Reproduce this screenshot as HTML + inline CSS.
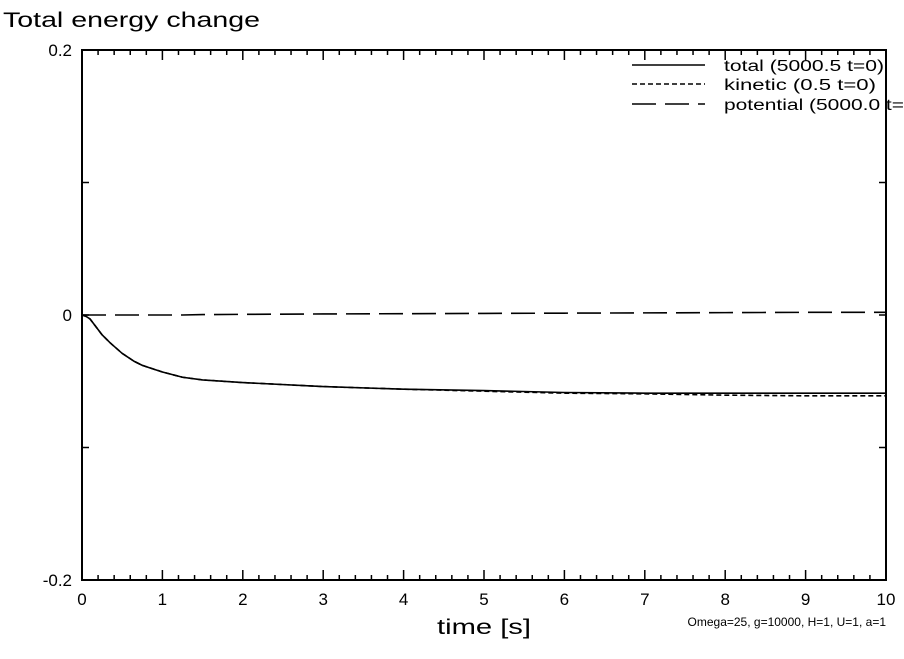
<!DOCTYPE html>
<html><head><meta charset="utf-8"><style>
body{margin:0;background:#fff}
svg text{font-family:"Liberation Sans",sans-serif;fill:#000}
</style></head><body>
<svg id="chart" width="904" height="654" viewBox="0 0 904 654" xmlns="http://www.w3.org/2000/svg">
<text x="3" y="27" font-size="21" textLength="257" lengthAdjust="spacingAndGlyphs">Total energy change</text>
<rect x="82" y="50" width="804" height="530" fill="none" stroke="#000" stroke-width="2"/>
<g id="ticks"></g>
<g id="series"></g>
<text x="484" y="634" font-size="21" text-anchor="middle" textLength="94" lengthAdjust="spacingAndGlyphs">time [s]</text>
<text x="886" y="626" font-size="12" text-anchor="end">Omega=25, g=10000, H=1, U=1, a=1</text>
<g>
<line x1="632" y1="65" x2="705" y2="65" stroke="#000" stroke-width="1.5"/>
<text x="724" y="71" font-size="15.5" textLength="160" lengthAdjust="spacingAndGlyphs">total (5000.5 t=0)</text>
<line x1="632" y1="84" x2="705" y2="84" stroke="#000" stroke-width="1.5" stroke-dasharray="5,3"/>
<text x="724" y="90" font-size="15.5" textLength="152" lengthAdjust="spacingAndGlyphs">kinetic (0.5 t=0)</text>
<line x1="632" y1="104" x2="705" y2="104" stroke="#000" stroke-width="1.5" stroke-dasharray="24,9"/>
<text x="724" y="110" font-size="15.5" textLength="180" lengthAdjust="spacingAndGlyphs">potential (5000.0 t=</text>
</g>
</svg>
<script>
const xTicks=[0,1,2,3,4,5,6,7,8,9,10];
const yTicks=[-0.2,-0.1,0,0.1,0.2];
const yTickLabels=["-0.2","","0","","0.2"];
const times=[0,0.05,0.1,0.15,0.25,0.35,0.5,0.65,0.75,0.9,1,1.25,1.5,2,3,4,5,6,7,8,9,10];
const total=[0,-0.001,-0.003,-0.007,-0.015,-0.021,-0.029,-0.035,-0.038,-0.041,-0.043,-0.047,-0.049,-0.051,-0.054,-0.056,-0.057,-0.0585,-0.059,-0.059,-0.059,-0.059];
const kinetic=[0,-0.001,-0.003,-0.007,-0.015,-0.021,-0.029,-0.035,-0.038,-0.041,-0.043,-0.047,-0.049,-0.051,-0.054,-0.056,-0.0575,-0.059,-0.0595,-0.0605,-0.061,-0.061];
const potential=[0,0,0,0,0,0,0,0,0,0,0,0,0.0003,0.0005,0.0008,0.001,0.0012,0.0014,0.0016,0.0018,0.002,0.002];
const X=t=>82+t*80.4, Y=v=>315-v*1325;
const NS="http://www.w3.org/2000/svg";
const tg=document.getElementById('ticks'), sg=document.getElementById('series');
function mk(tag,at,p){const e=document.createElementNS(NS,tag);for(const k in at)e.setAttribute(k,at[k]);p.appendChild(e);return e;}
for(let i=0;i<=50;i++){const t=i*0.2,x=X(t),L=(i%5==0)?10:5;
 mk('line',{x1:x,y1:580,x2:x,y2:580-L,stroke:'#000','stroke-width':1.5},tg);
 mk('line',{x1:x,y1:50,x2:x,y2:50+L,stroke:'#000','stroke-width':1.5},tg);}
xTicks.forEach(t=>{const e=mk('text',{x:X(t),y:605,'font-size':17,'text-anchor':'middle'},tg);e.textContent=t;

});
yTicks.forEach((v,i)=>{const y=Y(v);
 mk('line',{x1:82,y1:y,x2:89,y2:y,stroke:'#000','stroke-width':1.5},tg);
 mk('line',{x1:886,y1:y,x2:879,y2:y,stroke:'#000','stroke-width':1.5},tg);
 const e=mk('text',{x:72,y:y+6,'font-size':17,'text-anchor':'end'},tg);e.textContent=yTickLabels[i];
 
 });
function line(arr,dash,name){const d=times.map((t,i)=>(i?'L':'M')+X(t)+','+Y(arr[i])).join('');
 const p=mk('path',{d:d,fill:'none',stroke:'#000','stroke-width':1.6},sg);if(dash)p.setAttribute('stroke-dasharray',dash);
 
 }
line(potential,'24,9','potential-line');
line(kinetic,'5,3','kinetic-line');
line(total,null,'total-line');
</script>
</body></html>
